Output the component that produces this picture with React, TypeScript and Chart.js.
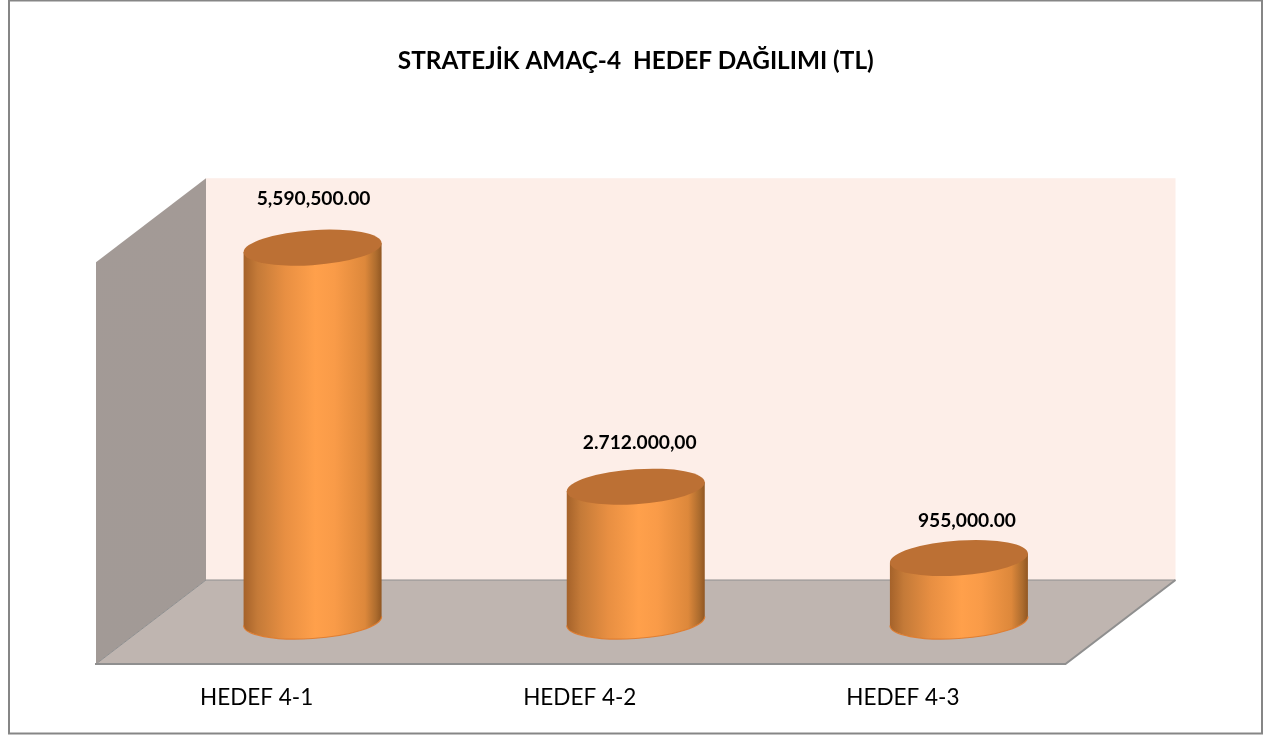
import React, { useEffect, useRef } from "react";
import { Chart, registerables } from "chart.js";

Chart.register(...registerables);

const categories = ["HEDEF 4-1", "HEDEF 4-2", "HEDEF 4-3"];
const barValues = [5590500, 2020000, 955000];
const dataLabels = ["5,590,500.00", "2.712.000,00", "955,000.00"];
const titleText = "STRATEJİK AMAÇ-4  HEDEF DAĞILIMI (TL)";
const FONT = "Lato, 'Open Sans', sans-serif";

const labelGaps = [49, 44, 37];
const labelShifts = [1, 4, 8];
const DEPTH_X = 55;
const DEPTH_Y = 42;

const scenePlugin = {
  id: "scene",
  beforeDraw(chart: any) {
    const { ctx, chartArea: a, width, height } = chart;
    ctx.save();
    ctx.fillStyle = "#ffffff";
    ctx.fillRect(0, 0, width, height);
    ctx.strokeStyle = "#868686";
    ctx.lineWidth = 2;
    ctx.strokeRect(9, 0.5, 1253, 733);

    const bl = a.left + DEPTH_X, br = a.right + DEPTH_X, bt = a.top - DEPTH_Y, bb = a.bottom - DEPTH_Y;
    const fl = a.left - DEPTH_X, fr = a.right - DEPTH_X, ft = a.top + DEPTH_Y, fb = a.bottom + DEPTH_Y;

    // back wall
    ctx.fillStyle = "#fdeee8";
    ctx.fillRect(bl, bt, br - bl, bb - bt);

    // left wall
    const wall = ctx.createLinearGradient(0, bt, 0, fb);
    wall.addColorStop(0, "#a39a96");
    wall.addColorStop(1, "#a29a96");
    ctx.fillStyle = wall;
    ctx.beginPath();
    ctx.moveTo(fl, ft);
    ctx.lineTo(bl, bt);
    ctx.lineTo(bl, bb);
    ctx.lineTo(fl, fb);
    ctx.closePath();
    ctx.fill();

    // floor
    ctx.fillStyle = "#bfb5b0";
    ctx.beginPath();
    ctx.moveTo(fl, fb);
    ctx.lineTo(bl, bb);
    ctx.lineTo(br, bb);
    ctx.lineTo(fr, fb);
    ctx.closePath();
    ctx.fill();

    ctx.strokeStyle = "#8f8f8f";
    ctx.lineWidth = 1;
    ctx.beginPath();
    ctx.moveTo(fl, fb);
    ctx.lineTo(bl, bb);
    ctx.lineTo(br, bb);
    ctx.stroke();
    ctx.lineWidth = 2;
    ctx.beginPath();
    ctx.moveTo(br, bb);
    ctx.lineTo(fr, fb);
    ctx.lineTo(fl - 1, fb);
    ctx.stroke();
    ctx.restore();
  },
  afterDatasetsDraw(chart: any) {
    const { ctx } = chart;
    const meta = chart.getDatasetMeta(0);
    meta.data.forEach((bar: any, i: number) => {
      const a = bar.width / 2;
      const b = 17.5;
      const k = 0.065;
      const base = bar.base - 1;
      ctx.save();
      ctx.transform(1, -k, 0, 1, bar.x, 0);

      const g = ctx.createLinearGradient(-a, 0, a, 0);
      g.addColorStop(0, "#a5622a");
      g.addColorStop(0.1, "#c47a38");
      g.addColorStop(0.3, "#e88f42");
      g.addColorStop(0.52, "#ffa04b");
      g.addColorStop(0.66, "#f99b48");
      g.addColorStop(0.88, "#dd883b");
      g.addColorStop(0.96, "#ad6c2e");
      g.addColorStop(1, "#915722");

      ctx.beginPath();
      ctx.moveTo(-a, bar.y);
      ctx.lineTo(-a, base);
      ctx.ellipse(0, base, a, b, 0, Math.PI, 0, true);
      ctx.lineTo(a, bar.y);
      ctx.closePath();
      ctx.fillStyle = g;
      ctx.fill();

      ctx.beginPath();
      ctx.ellipse(0, base, a, b, 0, Math.PI, 0, true);
      ctx.strokeStyle = "rgba(224,122,42,0.9)";
      ctx.lineWidth = 1.2;
      ctx.stroke();

      ctx.beginPath();
      ctx.ellipse(0, bar.y, a, b, 0, 0, Math.PI * 2);
      ctx.fillStyle = "#bc7034";
      ctx.fill();
      ctx.restore();

      ctx.save();
      ctx.fillStyle = "#000000";
      ctx.font = `bold 19.2px ${FONT}`;
      ctx.textAlign = "center";
      ctx.textBaseline = "middle";
      ctx.fillText(dataLabels[i], bar.x + labelShifts[i], bar.y - labelGaps[i]);
      ctx.restore();
    });
  },
};

export default function App() {
  const ref = useRef<HTMLCanvasElement>(null);
  useEffect(() => {
    const chart = new Chart(ref.current as HTMLCanvasElement, {
      type: "bar",
      data: {
        labels: categories,
        datasets: [
          {
            data: barValues,
            backgroundColor: "rgba(0,0,0,0)",
            borderWidth: 0,
            barThickness: 138,
          },
        ],
      },
      options: {
        responsive: false,
        animation: false,
        layout: { padding: { left: 151, right: 148.5, top: 47, bottom: 0 } },
        plugins: {
          legend: { display: false },
          tooltip: { enabled: false },
          title: {
            display: true,
            text: titleText,
            color: "#000000",
            font: { family: FONT, size: 24.35, weight: "bold" },
            padding: { top: 0, bottom: 144 },
          },
        },
        scales: {
          x: {
            grid: { display: false, drawTicks: false },
            border: { display: false },
            afterFit: (scale: any) => {
              scale.height = 113;
            },
            ticks: {
              color: "#000000",
              font: { family: FONT, size: 22.5 },
              labelOffset: -56,
              padding: 62,
              maxRotation: 0,
            },
          },
          y: { display: false, min: 0, max: 6000000 },
        },
      },
      plugins: [scenePlugin],
    } as any);
    return () => chart.destroy();
  }, []);
  return (
    <div style={{ position: "absolute", left: 0, top: 0, width: 1269, height: 735 }}>
      <canvas ref={ref} width={1269} height={735} style={{ display: "block" }} />
    </div>
  );
}
